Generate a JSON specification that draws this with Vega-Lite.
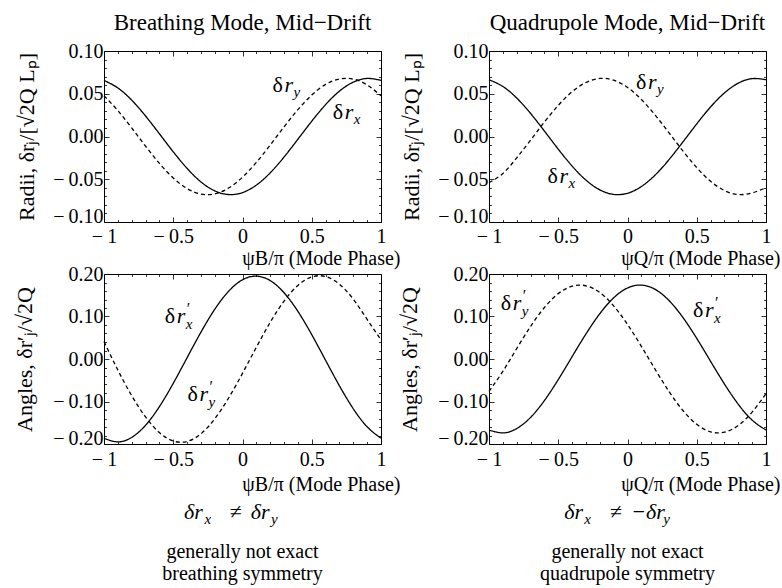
{
  "$schema": "https://vega.github.io/schema/vega-lite/v6.json",
  "autosize": {"type": "pad"},
  "padding": {"left": 12, "top": 11, "right": 0, "bottom": 0},
  "background": "white",
  "config": {
    "font": "Liberation Serif",
    "view": {"stroke": "black", "strokeWidth": 1},
    "axis": {"domain": false, "grid": false, "labelFont": "Liberation Serif", "labelFontSize": 20, "labelColor": "black", "titleFont": "Liberation Serif", "titleFontSize": 22, "titleFontWeight": "normal", "titleColor": "black", "tickColor": "black", "tickWidth": 0.8, "labelFlush": false, "labelOverlap": false, "labelBound": false},
    "title": {"font": "Liberation Serif", "fontSize": 23, "fontWeight": "normal", "color": "black"},
    "text": {"font": "Liberation Serif", "color": "black"}
  },
  "datasets": {
    "curves": [
      {"panel":"BR","comp":"x","phase":-1,"value":0.0656},{"panel":"BR","comp":"x","phase":-0.9,"value":0.0568},{"panel":"BR","comp":"x","phase":-0.8,"value":0.0425},{"panel":"BR","comp":"x","phase":-0.7,"value":0.0240},{"panel":"BR","comp":"x","phase":-0.6,"value":0.0032},{"panel":"BR","comp":"x","phase":-0.5,"value":-0.0179},{"panel":"BR","comp":"x","phase":-0.4,"value":-0.0373},{"panel":"BR","comp":"x","phase":-0.3,"value":-0.0531},{"panel":"BR","comp":"x","phase":-0.2,"value":-0.0636},{"panel":"BR","comp":"x","phase":-0.1,"value":-0.0679},{"panel":"BR","comp":"x","phase":0,"value":-0.0656},{"panel":"BR","comp":"x","phase":0.1,"value":-0.0568},{"panel":"BR","comp":"x","phase":0.2,"value":-0.0425},{"panel":"BR","comp":"x","phase":0.3,"value":-0.0240},{"panel":"BR","comp":"x","phase":0.4,"value":-0.0032},{"panel":"BR","comp":"x","phase":0.5,"value":0.0179},{"panel":"BR","comp":"x","phase":0.6,"value":0.0373},{"panel":"BR","comp":"x","phase":0.7,"value":0.0531},{"panel":"BR","comp":"x","phase":0.8,"value":0.0636},{"panel":"BR","comp":"x","phase":0.9,"value":0.0679},{"panel":"BR","comp":"x","phase":1,"value":0.0656},
      {"panel":"BR","comp":"y","phase":-1,"value":0.0476},{"panel":"BR","comp":"y","phase":-0.9,"value":0.0303},{"panel":"BR","comp":"y","phase":-0.8,"value":0.0100},{"panel":"BR","comp":"y","phase":-0.7,"value":-0.0113},{"panel":"BR","comp":"y","phase":-0.6,"value":-0.0314},{"panel":"BR","comp":"y","phase":-0.5,"value":-0.0485},{"panel":"BR","comp":"y","phase":-0.4,"value":-0.0609},{"panel":"BR","comp":"y","phase":-0.3,"value":-0.0673},{"panel":"BR","comp":"y","phase":-0.2,"value":-0.0671},{"panel":"BR","comp":"y","phase":-0.1,"value":-0.0603},{"panel":"BR","comp":"y","phase":0,"value":-0.0476},{"panel":"BR","comp":"y","phase":0.1,"value":-0.0303},{"panel":"BR","comp":"y","phase":0.2,"value":-0.0100},{"panel":"BR","comp":"y","phase":0.3,"value":0.0113},{"panel":"BR","comp":"y","phase":0.4,"value":0.0314},{"panel":"BR","comp":"y","phase":0.5,"value":0.0485},{"panel":"BR","comp":"y","phase":0.6,"value":0.0609},{"panel":"BR","comp":"y","phase":0.7,"value":0.0673},{"panel":"BR","comp":"y","phase":0.8,"value":0.0671},{"panel":"BR","comp":"y","phase":0.9,"value":0.0603},{"panel":"BR","comp":"y","phase":1,"value":0.0476},
      {"panel":"QR","comp":"x","phase":-1,"value":0.0664},{"panel":"QR","comp":"x","phase":-0.9,"value":0.0585},{"panel":"QR","comp":"x","phase":-0.8,"value":0.0450},{"panel":"QR","comp":"x","phase":-0.7,"value":0.0270},{"panel":"QR","comp":"x","phase":-0.6,"value":0.0064},{"panel":"QR","comp":"x","phase":-0.5,"value":-0.0148},{"panel":"QR","comp":"x","phase":-0.4,"value":-0.0346},{"panel":"QR","comp":"x","phase":-0.3,"value":-0.0510},{"panel":"QR","comp":"x","phase":-0.2,"value":-0.0624},{"panel":"QR","comp":"x","phase":-0.1,"value":-0.0677},{"panel":"QR","comp":"x","phase":0,"value":-0.0664},{"panel":"QR","comp":"x","phase":0.1,"value":-0.0585},{"panel":"QR","comp":"x","phase":0.2,"value":-0.0450},{"panel":"QR","comp":"x","phase":0.3,"value":-0.0270},{"panel":"QR","comp":"x","phase":0.4,"value":-0.0064},{"panel":"QR","comp":"x","phase":0.5,"value":0.0148},{"panel":"QR","comp":"x","phase":0.6,"value":0.0346},{"panel":"QR","comp":"x","phase":0.7,"value":0.0510},{"panel":"QR","comp":"x","phase":0.8,"value":0.0624},{"panel":"QR","comp":"x","phase":0.9,"value":0.0677},{"panel":"QR","comp":"x","phase":1,"value":0.0664},
      {"panel":"QR","comp":"y","phase":-1,"value":-0.0540},{"panel":"QR","comp":"y","phase":-0.9,"value":-0.0433},{"panel":"QR","comp":"y","phase":-0.8,"value":-0.0250},{"panel":"QR","comp":"y","phase":-0.7,"value":-0.0043},{"panel":"QR","comp":"y","phase":-0.6,"value":0.0169},{"panel":"QR","comp":"y","phase":-0.5,"value":0.0364},{"panel":"QR","comp":"y","phase":-0.4,"value":0.0524},{"panel":"QR","comp":"y","phase":-0.3,"value":0.0632},{"panel":"QR","comp":"y","phase":-0.2,"value":0.0679},{"panel":"QR","comp":"y","phase":-0.1,"value":0.0659},{"panel":"QR","comp":"y","phase":0,"value":0.0574},{"panel":"QR","comp":"y","phase":0.1,"value":0.0433},{"panel":"QR","comp":"y","phase":0.2,"value":0.0250},{"panel":"QR","comp":"y","phase":0.3,"value":0.0043},{"panel":"QR","comp":"y","phase":0.4,"value":-0.0169},{"panel":"QR","comp":"y","phase":0.5,"value":-0.0364},{"panel":"QR","comp":"y","phase":0.6,"value":-0.0524},{"panel":"QR","comp":"y","phase":0.7,"value":-0.0632},{"panel":"QR","comp":"y","phase":0.8,"value":-0.0679},{"panel":"QR","comp":"y","phase":0.9,"value":-0.0659},{"panel":"QR","comp":"y","phase":1,"value":-0.0600},
      {"panel":"BA","comp":"x","phase":-1,"value":-0.1864},{"panel":"BA","comp":"x","phase":-0.9,"value":-0.1950},{"panel":"BA","comp":"x","phase":-0.8,"value":-0.1845},{"panel":"BA","comp":"x","phase":-0.7,"value":-0.1559},{"panel":"BA","comp":"x","phase":-0.6,"value":-0.1121},{"panel":"BA","comp":"x","phase":-0.5,"value":-0.0573},{"panel":"BA","comp":"x","phase":-0.4,"value":0.0031},{"panel":"BA","comp":"x","phase":-0.3,"value":0.0632},{"panel":"BA","comp":"x","phase":-0.2,"value":0.1171},{"panel":"BA","comp":"x","phase":-0.1,"value":0.1595},{"panel":"BA","comp":"x","phase":0,"value":0.1864},{"panel":"BA","comp":"x","phase":0.1,"value":0.1950},{"panel":"BA","comp":"x","phase":0.2,"value":0.1845},{"panel":"BA","comp":"x","phase":0.3,"value":0.1559},{"panel":"BA","comp":"x","phase":0.4,"value":0.1121},{"panel":"BA","comp":"x","phase":0.5,"value":0.0573},{"panel":"BA","comp":"x","phase":0.6,"value":-0.0031},{"panel":"BA","comp":"x","phase":0.7,"value":-0.0632},{"panel":"BA","comp":"x","phase":0.8,"value":-0.1171},{"panel":"BA","comp":"x","phase":0.9,"value":-0.1595},{"panel":"BA","comp":"x","phase":1,"value":-0.1864},
      {"panel":"BA","comp":"y","phase":-1,"value":0.0410},{"panel":"BA","comp":"y","phase":-0.9,"value":-0.0260},{"panel":"BA","comp":"y","phase":-0.8,"value":-0.0862},{"panel":"BA","comp":"y","phase":-0.7,"value":-0.1364},{"panel":"BA","comp":"y","phase":-0.6,"value":-0.1732},{"panel":"BA","comp":"y","phase":-0.5,"value":-0.1931},{"panel":"BA","comp":"y","phase":-0.4,"value":-0.1940},{"panel":"BA","comp":"y","phase":-0.3,"value":-0.1760},{"panel":"BA","comp":"y","phase":-0.2,"value":-0.1407},{"panel":"BA","comp":"y","phase":-0.1,"value":-0.0917},{"panel":"BA","comp":"y","phase":0,"value":-0.0337},{"panel":"BA","comp":"y","phase":0.1,"value":0.0276},{"panel":"BA","comp":"y","phase":0.2,"value":0.0862},{"panel":"BA","comp":"y","phase":0.3,"value":0.1364},{"panel":"BA","comp":"y","phase":0.4,"value":0.1732},{"panel":"BA","comp":"y","phase":0.5,"value":0.1931},{"panel":"BA","comp":"y","phase":0.6,"value":0.1940},{"panel":"BA","comp":"y","phase":0.7,"value":0.1760},{"panel":"BA","comp":"y","phase":0.8,"value":0.1407},{"panel":"BA","comp":"y","phase":0.9,"value":0.0930},{"panel":"BA","comp":"y","phase":1,"value":0.0450},
      {"panel":"QA","comp":"x","phase":-1,"value":-0.1671},{"panel":"QA","comp":"x","phase":-0.9,"value":-0.1739},{"panel":"QA","comp":"x","phase":-0.8,"value":-0.1637},{"panel":"QA","comp":"x","phase":-0.7,"value":-0.1375},{"panel":"QA","comp":"x","phase":-0.6,"value":-0.0978},{"panel":"QA","comp":"x","phase":-0.5,"value":-0.0485},{"panel":"QA","comp":"x","phase":-0.4,"value":0.0055},{"panel":"QA","comp":"x","phase":-0.3,"value":0.0589},{"panel":"QA","comp":"x","phase":-0.2,"value":0.1066},{"panel":"QA","comp":"x","phase":-0.1,"value":0.1439},{"panel":"QA","comp":"x","phase":0,"value":0.1671},{"panel":"QA","comp":"x","phase":0.1,"value":0.1739},{"panel":"QA","comp":"x","phase":0.2,"value":0.1637},{"panel":"QA","comp":"x","phase":0.3,"value":0.1375},{"panel":"QA","comp":"x","phase":0.4,"value":0.0978},{"panel":"QA","comp":"x","phase":0.5,"value":0.0485},{"panel":"QA","comp":"x","phase":0.6,"value":-0.0055},{"panel":"QA","comp":"x","phase":0.7,"value":-0.0589},{"panel":"QA","comp":"x","phase":0.8,"value":-0.1066},{"panel":"QA","comp":"x","phase":0.9,"value":-0.1439},{"panel":"QA","comp":"x","phase":1,"value":-0.1671},
      {"panel":"QA","comp":"y","phase":-1,"value":-0.0760},{"panel":"QA","comp":"y","phase":-0.9,"value":-0.0290},{"panel":"QA","comp":"y","phase":-0.8,"value":0.0245},{"panel":"QA","comp":"y","phase":-0.7,"value":0.0765},{"panel":"QA","comp":"y","phase":-0.6,"value":0.1211},{"panel":"QA","comp":"y","phase":-0.5,"value":0.1538},{"panel":"QA","comp":"y","phase":-0.4,"value":0.1714},{"panel":"QA","comp":"y","phase":-0.3,"value":0.1723},{"panel":"QA","comp":"y","phase":-0.2,"value":0.1563},{"panel":"QA","comp":"y","phase":-0.1,"value":0.1249},{"panel":"QA","comp":"y","phase":0,"value":0.0814},{"panel":"QA","comp":"y","phase":0.1,"value":0.0299},{"panel":"QA","comp":"y","phase":0.2,"value":-0.0245},{"panel":"QA","comp":"y","phase":0.3,"value":-0.0765},{"panel":"QA","comp":"y","phase":0.4,"value":-0.1211},{"panel":"QA","comp":"y","phase":0.5,"value":-0.1538},{"panel":"QA","comp":"y","phase":0.6,"value":-0.1714},{"panel":"QA","comp":"y","phase":0.7,"value":-0.1723},{"panel":"QA","comp":"y","phase":0.8,"value":-0.1563},{"panel":"QA","comp":"y","phase":0.9,"value":-0.1249},{"panel":"QA","comp":"y","phase":1,"value":-0.0814}
    ],
    "labels": [
      {"panel":"BR","comp":"y","phase":0.217,"value":0.0524},
      {"panel":"BR","comp":"x","phase":0.651,"value":0.020},
      {"panel":"QR","comp":"y","phase":0.062,"value":0.055},
      {"panel":"QR","comp":"x","phase":-0.578,"value":-0.054},
      {"panel":"BA","comp":"x","phase":-0.562,"value":0.084},
      {"panel":"BA","comp":"y","phase":-0.398,"value":-0.099},
      {"panel":"QA","comp":"y","phase":-0.916,"value":0.115},
      {"panel":"QA","comp":"x","phase":0.473,"value":0.099}
    ],
    "foot": [
      {"col":"B","kind":"math","pos":-0.422,"line":0.75,"text":"δr"},
      {"col":"B","kind":"sub","pos":-0.275,"line":0.75,"text":"x"},
      {"col":"B","kind":"rel","pos":-0.048,"line":0.75,"text":"≠"},
      {"col":"B","kind":"math","pos":0.06,"line":0.75,"text":"δr"},
      {"col":"B","kind":"sub","pos":0.206,"line":0.75,"text":"y"},
      {"col":"B","kind":"note","pos":0,"line":2.07,"text":"generally not exact"},
      {"col":"B","kind":"note","pos":0,"line":2.8,"text":"breathing symmetry"},
      {"col":"Q","kind":"math","pos":-0.457,"line":0.75,"text":"δr"},
      {"col":"Q","kind":"sub","pos":-0.312,"line":0.75,"text":"x"},
      {"col":"Q","kind":"rel","pos":-0.083,"line":0.75,"text":"≠"},
      {"col":"Q","kind":"math","pos":0.026,"line":0.75,"text":"−δr"},
      {"col":"Q","kind":"sub","pos":0.258,"line":0.75,"text":"y"},
      {"col":"Q","kind":"note","pos":0,"line":2.07,"text":"generally not exact"},
      {"col":"Q","kind":"note","pos":0,"line":2.8,"text":"quadrupole symmetry"}
    ]
  },
  "columns": 2,
  "spacing": {"row": 52, "column": 108},
  "bounds": "flush",
  "concat": [
    {
      "width": 277, "height": 171,
      "title": {"text": "Breathing Mode, Mid−Drift", "offset": 6},
      "layer": [
        {
          "data": {"name": "curves"},
          "transform": [{"filter": "datum.panel === 'BR'"}],
          "mark": {"type": "line", "color": "black", "strokeWidth": 1.3, "interpolate": "natural"},
          "encoding": {
            "x": {"field": "phase", "type": "quantitative", "scale": {"domain": [-1, 1], "nice": false, "zero": false},
              "axis": {"orient": "bottom", "values": [-1,-0.9,-0.8,-0.7,-0.6,-0.5,-0.4,-0.3,-0.2,-0.1,0,0.1,0.2,0.3,0.4,0.5,0.6,0.7,0.8,0.9,1],
                "tickSize": {"condition": {"test": "abs(datum.value*2 - round(datum.value*2)) < 0.001", "value": -5}, "value": -2.5},
                "labelExpr": "abs(datum.value*2 - round(datum.value*2)) < 0.001 ? (datum.value < -0.0001 ? '−\u2009' + format(-datum.value, '~g') : format(abs(datum.value), '~g')) : ''",
                "labelPadding": 9,
                "title": "ψB/π (Mode Phase)", "titleFontSize": 20, "titleX": 296, "titleY": 42, "titleAlign": "right", "titleAnchor": "end", "titleBaseline": "alphabetic"}},
            "y": {"field": "value", "type": "quantitative", "scale": {"domain": [-0.1, 0.1], "nice": false, "zero": false},
              "axis": {"orient": "left", "values": [-0.1,-0.09,-0.08,-0.07,-0.06,-0.05,-0.04,-0.03,-0.02,-0.01,0,0.01,0.02,0.03,0.04,0.05,0.06,0.07,0.08,0.09,0.1],
                "tickSize": {"condition": {"test": "abs(datum.value*20 - round(datum.value*20)) < 0.001", "value": -5}, "value": -2.5},
                "labelExpr": "abs(datum.value*20 - round(datum.value*20)) < 0.001 ? (datum.value < -0.0001 ? '−\u2009' + format(-datum.value, '.2f') : format(abs(datum.value), '.2f')) : ''",
                "labelBaseline": {"condition": {"test": "datum.value < -0.095", "value": "alphabetic"}, "value": "middle"},
                "labelPadding": 6,
                "title": "Radii, δrⱼ/[√2Q Lₚ]", "titleX": -71, "titleBaseline": "alphabetic"}},
            "strokeDash": {"field": "comp", "type": "nominal", "scale": {"domain": ["x", "y"], "range": [[1, 0], [4, 3]]}, "legend": null}
          }
        },
        {
          "mark": {"type": "rule", "color": "#555555", "strokeWidth": 1, "strokeDash": [1.5, 2.5]},
          "encoding": {"y": {"datum": 0, "type": "quantitative", "axis": null}}
        },
        {
          "data": {"name": "labels"},
          "transform": [{"filter": "datum.panel === 'BR'"}],
          "mark": {"type": "text", "align": "left", "baseline": "alphabetic", "fontSize": 22, "text": "δ"},
          "encoding": {
            "x": {"field": "phase", "type": "quantitative",
              "axis": {"orient": "top", "labels": false, "title": null, "values": [-1,-0.9,-0.8,-0.7,-0.6,-0.5,-0.4,-0.3,-0.2,-0.1,0,0.1,0.2,0.3,0.4,0.5,0.6,0.7,0.8,0.9,1],
                "tickSize": {"condition": {"test": "abs(datum.value*2 - round(datum.value*2)) < 0.001", "value": -5}, "value": -2.5}}},
            "y": {"field": "value", "type": "quantitative",
              "axis": {"orient": "right", "labels": false, "title": null, "values": [-0.1,-0.09,-0.08,-0.07,-0.06,-0.05,-0.04,-0.03,-0.02,-0.01,0,0.01,0.02,0.03,0.04,0.05,0.06,0.07,0.08,0.09,0.1],
                "tickSize": {"condition": {"test": "abs(datum.value*20 - round(datum.value*20)) < 0.001", "value": -5}, "value": -2.5}}}
          }
        },
        {
          "data": {"name": "labels"},
          "transform": [{"filter": "datum.panel === 'BR'"}],
          "mark": {"type": "text", "align": "left", "baseline": "alphabetic", "fontSize": 22, "fontStyle": "italic", "text": "r", "dx": 12},
          "encoding": {
            "x": {"field": "phase", "type": "quantitative", "axis": null},
            "y": {"field": "value", "type": "quantitative", "axis": null}
          }
        },
        {
          "data": {"name": "labels"},
          "transform": [{"filter": "datum.panel === 'BR'"}],
          "mark": {"type": "text", "align": "left", "baseline": "alphabetic", "fontSize": 15, "fontStyle": "italic", "dx": 21, "dy": 5},
          "encoding": {
            "x": {"field": "phase", "type": "quantitative", "axis": null},
            "y": {"field": "value", "type": "quantitative", "axis": null},
            "text": {"field": "comp"}
          }
        }
      ],
      "resolve": {"axis": {"x": "independent", "y": "independent"}}
    },
    {
      "width": 277, "height": 171,
      "title": {"text": "Quadrupole Mode, Mid−Drift", "offset": 6},
      "layer": [
        {
          "data": {"name": "curves"},
          "transform": [{"filter": "datum.panel === 'QR'"}],
          "mark": {"type": "line", "color": "black", "strokeWidth": 1.3, "interpolate": "natural"},
          "encoding": {
            "x": {"field": "phase", "type": "quantitative", "scale": {"domain": [-1, 1], "nice": false, "zero": false},
              "axis": {"orient": "bottom", "values": [-1,-0.9,-0.8,-0.7,-0.6,-0.5,-0.4,-0.3,-0.2,-0.1,0,0.1,0.2,0.3,0.4,0.5,0.6,0.7,0.8,0.9,1],
                "tickSize": {"condition": {"test": "abs(datum.value*2 - round(datum.value*2)) < 0.001", "value": -5}, "value": -2.5},
                "labelExpr": "abs(datum.value*2 - round(datum.value*2)) < 0.001 ? (datum.value < -0.0001 ? '−\u2009' + format(-datum.value, '~g') : format(abs(datum.value), '~g')) : ''",
                "labelPadding": 9,
                "title": "ψQ/π (Mode Phase)", "titleFontSize": 20, "titleX": 291, "titleY": 42, "titleAlign": "right", "titleAnchor": "end", "titleBaseline": "alphabetic"}},
            "y": {"field": "value", "type": "quantitative", "scale": {"domain": [-0.1, 0.1], "nice": false, "zero": false},
              "axis": {"orient": "left", "values": [-0.1,-0.09,-0.08,-0.07,-0.06,-0.05,-0.04,-0.03,-0.02,-0.01,0,0.01,0.02,0.03,0.04,0.05,0.06,0.07,0.08,0.09,0.1],
                "tickSize": {"condition": {"test": "abs(datum.value*20 - round(datum.value*20)) < 0.001", "value": -5}, "value": -2.5},
                "labelExpr": "abs(datum.value*20 - round(datum.value*20)) < 0.001 ? (datum.value < -0.0001 ? '−\u2009' + format(-datum.value, '.2f') : format(abs(datum.value), '.2f')) : ''",
                "labelBaseline": {"condition": {"test": "datum.value < -0.095", "value": "alphabetic"}, "value": "middle"},
                "labelPadding": 6,
                "title": "Radii, δrⱼ/[√2Q Lₚ]", "titleX": -71, "titleBaseline": "alphabetic"}},
            "strokeDash": {"field": "comp", "type": "nominal", "scale": {"domain": ["x", "y"], "range": [[1, 0], [4, 3]]}, "legend": null}
          }
        },
        {
          "mark": {"type": "rule", "color": "#555555", "strokeWidth": 1, "strokeDash": [1.5, 2.5]},
          "encoding": {"y": {"datum": 0, "type": "quantitative", "axis": null}}
        },
        {
          "data": {"name": "labels"},
          "transform": [{"filter": "datum.panel === 'QR'"}],
          "mark": {"type": "text", "align": "left", "baseline": "alphabetic", "fontSize": 22, "text": "δ"},
          "encoding": {
            "x": {"field": "phase", "type": "quantitative",
              "axis": {"orient": "top", "labels": false, "title": null, "values": [-1,-0.9,-0.8,-0.7,-0.6,-0.5,-0.4,-0.3,-0.2,-0.1,0,0.1,0.2,0.3,0.4,0.5,0.6,0.7,0.8,0.9,1],
                "tickSize": {"condition": {"test": "abs(datum.value*2 - round(datum.value*2)) < 0.001", "value": -5}, "value": -2.5}}},
            "y": {"field": "value", "type": "quantitative",
              "axis": {"orient": "right", "labels": false, "title": null, "values": [-0.1,-0.09,-0.08,-0.07,-0.06,-0.05,-0.04,-0.03,-0.02,-0.01,0,0.01,0.02,0.03,0.04,0.05,0.06,0.07,0.08,0.09,0.1],
                "tickSize": {"condition": {"test": "abs(datum.value*20 - round(datum.value*20)) < 0.001", "value": -5}, "value": -2.5}}}
          }
        },
        {
          "data": {"name": "labels"},
          "transform": [{"filter": "datum.panel === 'QR'"}],
          "mark": {"type": "text", "align": "left", "baseline": "alphabetic", "fontSize": 22, "fontStyle": "italic", "text": "r", "dx": 12},
          "encoding": {
            "x": {"field": "phase", "type": "quantitative", "axis": null},
            "y": {"field": "value", "type": "quantitative", "axis": null}
          }
        },
        {
          "data": {"name": "labels"},
          "transform": [{"filter": "datum.panel === 'QR'"}],
          "mark": {"type": "text", "align": "left", "baseline": "alphabetic", "fontSize": 15, "fontStyle": "italic", "dx": 21, "dy": 5},
          "encoding": {
            "x": {"field": "phase", "type": "quantitative", "axis": null},
            "y": {"field": "value", "type": "quantitative", "axis": null},
            "text": {"field": "comp"}
          }
        }
      ],
      "resolve": {"axis": {"x": "independent", "y": "independent"}}
    },
    {
      "width": 277, "height": 170,
      "layer": [
        {
          "data": {"name": "curves"},
          "transform": [{"filter": "datum.panel === 'BA'"}],
          "mark": {"type": "line", "color": "black", "strokeWidth": 1.3, "interpolate": "natural"},
          "encoding": {
            "x": {"field": "phase", "type": "quantitative", "scale": {"domain": [-1, 1], "nice": false, "zero": false},
              "axis": {"orient": "bottom", "values": [-1,-0.9,-0.8,-0.7,-0.6,-0.5,-0.4,-0.3,-0.2,-0.1,0,0.1,0.2,0.3,0.4,0.5,0.6,0.7,0.8,0.9,1],
                "tickSize": {"condition": {"test": "abs(datum.value*2 - round(datum.value*2)) < 0.001", "value": -5}, "value": -2.5},
                "labelExpr": "abs(datum.value*2 - round(datum.value*2)) < 0.001 ? (datum.value < -0.0001 ? '−\u2009' + format(-datum.value, '~g') : format(abs(datum.value), '~g')) : ''",
                "labelPadding": 10,
                "title": "ψB/π (Mode Phase)", "titleFontSize": 20, "titleX": 296, "titleY": 46, "titleAlign": "right", "titleAnchor": "end", "titleBaseline": "alphabetic"}},
            "y": {"field": "value", "type": "quantitative", "scale": {"domain": [-0.2, 0.2], "nice": false, "zero": false},
              "axis": {"orient": "left", "values": [-0.2,-0.18,-0.16,-0.14,-0.12,-0.1,-0.08,-0.06,-0.04,-0.02,0,0.02,0.04,0.06,0.08,0.1,0.12,0.14,0.16,0.18,0.2],
                "tickSize": {"condition": {"test": "abs(datum.value*10 - round(datum.value*10)) < 0.001", "value": -5}, "value": -2.5},
                "labelExpr": "abs(datum.value*10 - round(datum.value*10)) < 0.001 ? (datum.value < -0.0001 ? '−\u2009' + format(-datum.value, '.2f') : format(abs(datum.value), '.2f')) : ''",
                "labelOffset": {"condition": {"test": "datum.value < -0.19", "value": -6}, "value": 0},
                "labelPadding": 6,
                "title": "Angles,  δr′ⱼ/√2Q", "titleX": -73, "titleBaseline": "alphabetic"}},
            "strokeDash": {"field": "comp", "type": "nominal", "scale": {"domain": ["x", "y"], "range": [[1, 0], [4, 3]]}, "legend": null}
          }
        },
        {
          "mark": {"type": "rule", "color": "#555555", "strokeWidth": 1, "strokeDash": [1.5, 2.5]},
          "encoding": {"y": {"datum": 0, "type": "quantitative", "axis": null}}
        },
        {
          "data": {"name": "labels"},
          "transform": [{"filter": "datum.panel === 'BA'"}],
          "mark": {"type": "text", "align": "left", "baseline": "alphabetic", "fontSize": 22, "text": "δ"},
          "encoding": {
            "x": {"field": "phase", "type": "quantitative",
              "axis": {"orient": "top", "labels": false, "title": null, "values": [-1,-0.9,-0.8,-0.7,-0.6,-0.5,-0.4,-0.3,-0.2,-0.1,0,0.1,0.2,0.3,0.4,0.5,0.6,0.7,0.8,0.9,1],
                "tickSize": {"condition": {"test": "abs(datum.value*2 - round(datum.value*2)) < 0.001", "value": -5}, "value": -2.5}}},
            "y": {"field": "value", "type": "quantitative",
              "axis": {"orient": "right", "labels": false, "title": null, "values": [-0.2,-0.18,-0.16,-0.14,-0.12,-0.1,-0.08,-0.06,-0.04,-0.02,0,0.02,0.04,0.06,0.08,0.1,0.12,0.14,0.16,0.18,0.2],
                "tickSize": {"condition": {"test": "abs(datum.value*10 - round(datum.value*10)) < 0.001", "value": -5}, "value": -2.5}}}
          }
        },
        {
          "data": {"name": "labels"},
          "transform": [{"filter": "datum.panel === 'BA'"}],
          "mark": {"type": "text", "align": "left", "baseline": "alphabetic", "fontSize": 22, "fontStyle": "italic", "text": "r", "dx": 12},
          "encoding": {
            "x": {"field": "phase", "type": "quantitative", "axis": null},
            "y": {"field": "value", "type": "quantitative", "axis": null}
          }
        },
        {
          "data": {"name": "labels"},
          "transform": [{"filter": "datum.panel === 'BA'"}],
          "mark": {"type": "text", "align": "left", "baseline": "alphabetic", "fontSize": 15, "fontStyle": "italic", "dx": 21, "dy": 6},
          "encoding": {
            "x": {"field": "phase", "type": "quantitative", "axis": null},
            "y": {"field": "value", "type": "quantitative", "axis": null},
            "text": {"field": "comp"}
          }
        },
        {
          "data": {"name": "labels"},
          "transform": [{"filter": "datum.panel === 'BA'"}],
          "mark": {"type": "text", "align": "left", "baseline": "alphabetic", "fontSize": 16, "text": "′", "dx": 22, "dy": -9},
          "encoding": {
            "x": {"field": "phase", "type": "quantitative", "axis": null},
            "y": {"field": "value", "type": "quantitative", "axis": null}
          }
        }
      ],
      "resolve": {"axis": {"x": "independent", "y": "independent"}}
    },
    {
      "width": 277, "height": 170,
      "layer": [
        {
          "data": {"name": "curves"},
          "transform": [{"filter": "datum.panel === 'QA'"}],
          "mark": {"type": "line", "color": "black", "strokeWidth": 1.3, "interpolate": "natural"},
          "encoding": {
            "x": {"field": "phase", "type": "quantitative", "scale": {"domain": [-1, 1], "nice": false, "zero": false},
              "axis": {"orient": "bottom", "values": [-1,-0.9,-0.8,-0.7,-0.6,-0.5,-0.4,-0.3,-0.2,-0.1,0,0.1,0.2,0.3,0.4,0.5,0.6,0.7,0.8,0.9,1],
                "tickSize": {"condition": {"test": "abs(datum.value*2 - round(datum.value*2)) < 0.001", "value": -5}, "value": -2.5},
                "labelExpr": "abs(datum.value*2 - round(datum.value*2)) < 0.001 ? (datum.value < -0.0001 ? '−\u2009' + format(-datum.value, '~g') : format(abs(datum.value), '~g')) : ''",
                "labelPadding": 10,
                "title": "ψQ/π (Mode Phase)", "titleFontSize": 20, "titleX": 291, "titleY": 46, "titleAlign": "right", "titleAnchor": "end", "titleBaseline": "alphabetic"}},
            "y": {"field": "value", "type": "quantitative", "scale": {"domain": [-0.2, 0.2], "nice": false, "zero": false},
              "axis": {"orient": "left", "values": [-0.2,-0.18,-0.16,-0.14,-0.12,-0.1,-0.08,-0.06,-0.04,-0.02,0,0.02,0.04,0.06,0.08,0.1,0.12,0.14,0.16,0.18,0.2],
                "tickSize": {"condition": {"test": "abs(datum.value*10 - round(datum.value*10)) < 0.001", "value": -5}, "value": -2.5},
                "labelExpr": "abs(datum.value*10 - round(datum.value*10)) < 0.001 ? (datum.value < -0.0001 ? '−\u2009' + format(-datum.value, '.2f') : format(abs(datum.value), '.2f')) : ''",
                "labelOffset": {"condition": {"test": "datum.value < -0.19", "value": -6}, "value": 0},
                "labelPadding": 6,
                "title": "Angles,  δr′ⱼ/√2Q", "titleX": -73, "titleBaseline": "alphabetic"}},
            "strokeDash": {"field": "comp", "type": "nominal", "scale": {"domain": ["x", "y"], "range": [[1, 0], [4, 3]]}, "legend": null}
          }
        },
        {
          "mark": {"type": "rule", "color": "#555555", "strokeWidth": 1, "strokeDash": [1.5, 2.5]},
          "encoding": {"y": {"datum": 0, "type": "quantitative", "axis": null}}
        },
        {
          "data": {"name": "labels"},
          "transform": [{"filter": "datum.panel === 'QA'"}],
          "mark": {"type": "text", "align": "left", "baseline": "alphabetic", "fontSize": 22, "text": "δ"},
          "encoding": {
            "x": {"field": "phase", "type": "quantitative",
              "axis": {"orient": "top", "labels": false, "title": null, "values": [-1,-0.9,-0.8,-0.7,-0.6,-0.5,-0.4,-0.3,-0.2,-0.1,0,0.1,0.2,0.3,0.4,0.5,0.6,0.7,0.8,0.9,1],
                "tickSize": {"condition": {"test": "abs(datum.value*2 - round(datum.value*2)) < 0.001", "value": -5}, "value": -2.5}}},
            "y": {"field": "value", "type": "quantitative",
              "axis": {"orient": "right", "labels": false, "title": null, "values": [-0.2,-0.18,-0.16,-0.14,-0.12,-0.1,-0.08,-0.06,-0.04,-0.02,0,0.02,0.04,0.06,0.08,0.1,0.12,0.14,0.16,0.18,0.2],
                "tickSize": {"condition": {"test": "abs(datum.value*10 - round(datum.value*10)) < 0.001", "value": -5}, "value": -2.5}}}
          }
        },
        {
          "data": {"name": "labels"},
          "transform": [{"filter": "datum.panel === 'QA'"}],
          "mark": {"type": "text", "align": "left", "baseline": "alphabetic", "fontSize": 22, "fontStyle": "italic", "text": "r", "dx": 12},
          "encoding": {
            "x": {"field": "phase", "type": "quantitative", "axis": null},
            "y": {"field": "value", "type": "quantitative", "axis": null}
          }
        },
        {
          "data": {"name": "labels"},
          "transform": [{"filter": "datum.panel === 'QA'"}],
          "mark": {"type": "text", "align": "left", "baseline": "alphabetic", "fontSize": 15, "fontStyle": "italic", "dx": 21, "dy": 6},
          "encoding": {
            "x": {"field": "phase", "type": "quantitative", "axis": null},
            "y": {"field": "value", "type": "quantitative", "axis": null},
            "text": {"field": "comp"}
          }
        },
        {
          "data": {"name": "labels"},
          "transform": [{"filter": "datum.panel === 'QA'"}],
          "mark": {"type": "text", "align": "left", "baseline": "alphabetic", "fontSize": 16, "text": "′", "dx": 22, "dy": -9},
          "encoding": {
            "x": {"field": "phase", "type": "quantitative", "axis": null},
            "y": {"field": "value", "type": "quantitative", "axis": null}
          }
        }
      ],
      "resolve": {"axis": {"x": "independent", "y": "independent"}}
    },
    {
      "width": 277, "height": 90,
      "view": {"stroke": null},
      "data": {"name": "foot"},
      "transform": [{"filter": "datum.col === 'B'"}],
      "encoding": {
        "x": {"field": "pos", "type": "quantitative", "scale": {"domain": [-1, 1], "nice": false, "zero": false}, "axis": null},
        "y": {"field": "line", "type": "quantitative", "scale": {"domain": [0, 3], "nice": false, "zero": false, "reverse": true}, "axis": null},
        "text": {"field": "text"}
      },
      "layer": [
        {"transform": [{"filter": "datum.kind === 'math'"}], "mark": {"type": "text", "align": "left", "baseline": "alphabetic", "fontStyle": "italic", "fontSize": 22}},
        {"transform": [{"filter": "datum.kind === 'sub'"}], "mark": {"type": "text", "align": "left", "baseline": "alphabetic", "fontStyle": "italic", "fontSize": 15, "dy": 5}},
        {"transform": [{"filter": "datum.kind === 'rel'"}], "mark": {"type": "text", "align": "center", "baseline": "alphabetic", "fontSize": 22}},
        {"transform": [{"filter": "datum.kind === 'note'"}], "mark": {"type": "text", "align": "center", "baseline": "alphabetic", "fontSize": 20}}
      ]
    },
    {
      "width": 277, "height": 90,
      "view": {"stroke": null},
      "data": {"name": "foot"},
      "transform": [{"filter": "datum.col === 'Q'"}],
      "encoding": {
        "x": {"field": "pos", "type": "quantitative", "scale": {"domain": [-1, 1], "nice": false, "zero": false}, "axis": null},
        "y": {"field": "line", "type": "quantitative", "scale": {"domain": [0, 3], "nice": false, "zero": false, "reverse": true}, "axis": null},
        "text": {"field": "text"}
      },
      "layer": [
        {"transform": [{"filter": "datum.kind === 'math'"}], "mark": {"type": "text", "align": "left", "baseline": "alphabetic", "fontStyle": "italic", "fontSize": 22}},
        {"transform": [{"filter": "datum.kind === 'sub'"}], "mark": {"type": "text", "align": "left", "baseline": "alphabetic", "fontStyle": "italic", "fontSize": 15, "dy": 5}},
        {"transform": [{"filter": "datum.kind === 'rel'"}], "mark": {"type": "text", "align": "center", "baseline": "alphabetic", "fontSize": 22}},
        {"transform": [{"filter": "datum.kind === 'note'"}], "mark": {"type": "text", "align": "center", "baseline": "alphabetic", "fontSize": 20}}
      ]
    }
  ]
}
